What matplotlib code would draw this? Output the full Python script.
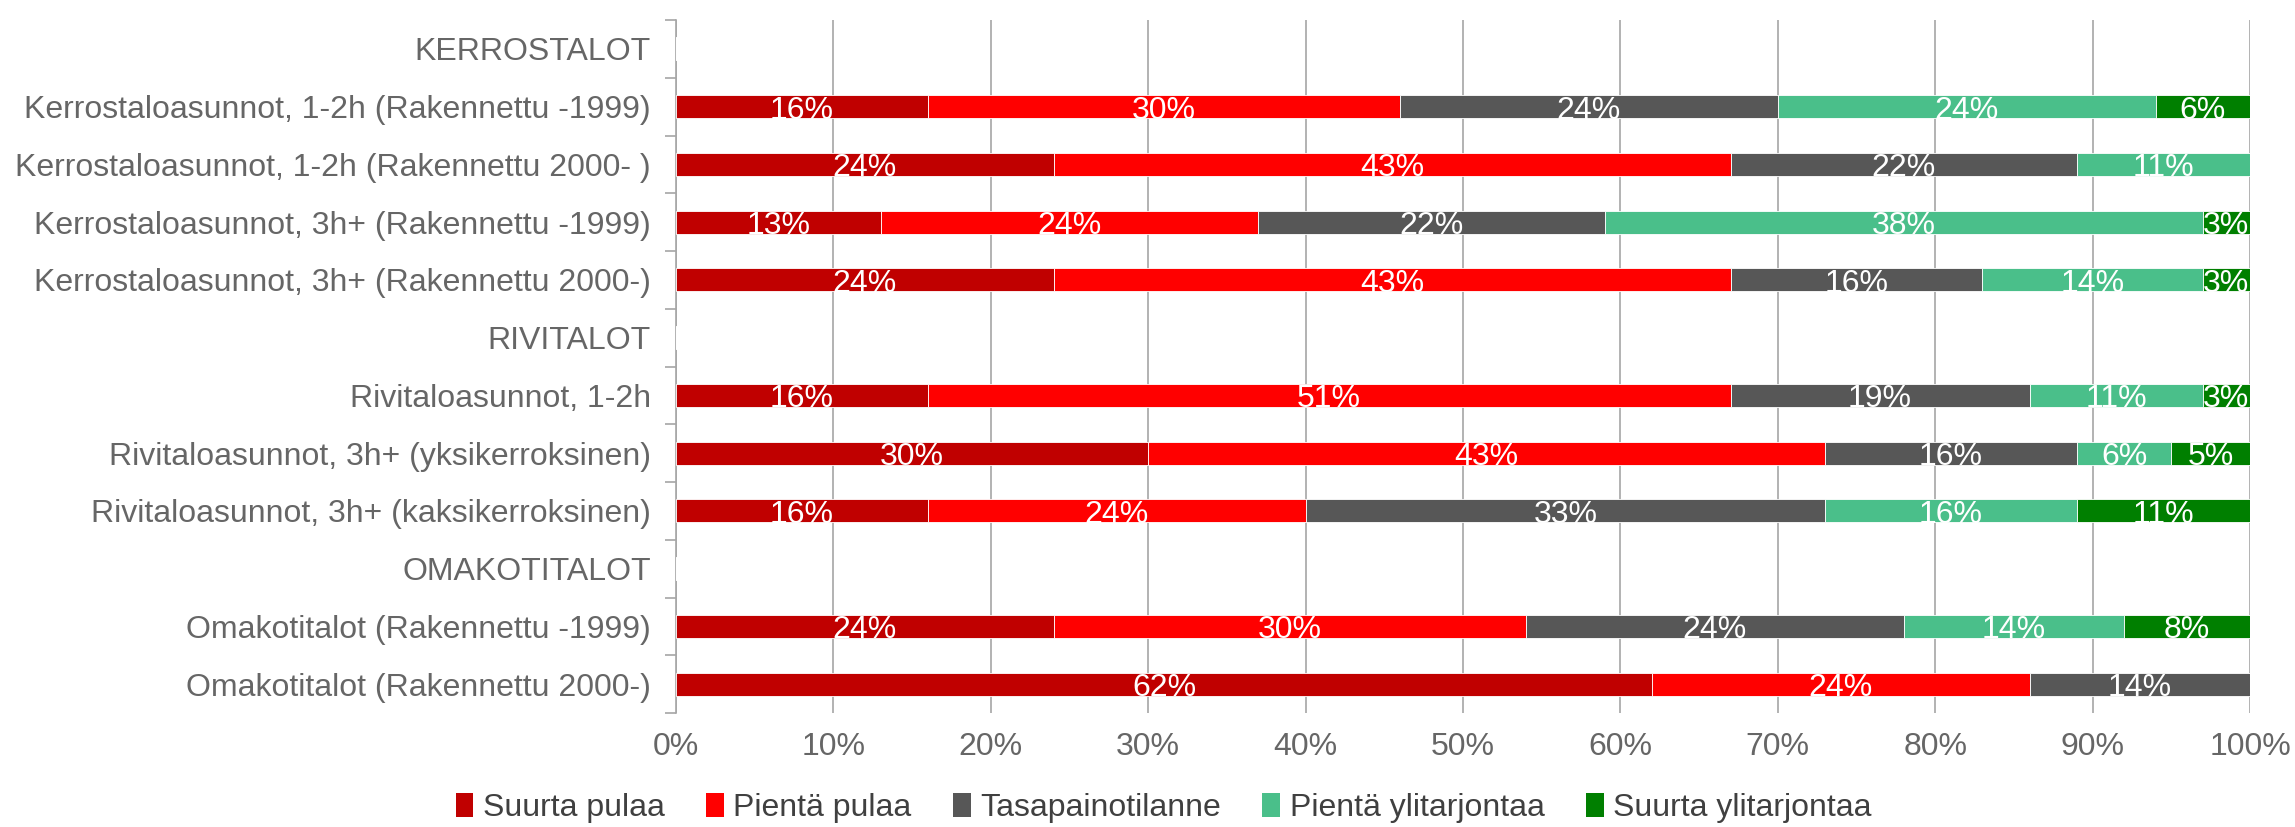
import matplotlib
matplotlib.use("Agg")
import matplotlib.pyplot as plt
import numpy as np
from matplotlib.patches import Patch

# ============================================================
# DATA
# ============================================================

categories = [
    "KERROSTALOT",
    "Kerrostaloasunnot, 1-2h (Rakennettu -1999)",
    "Kerrostaloasunnot, 1-2h (Rakennettu 2000- )",
    "Kerrostaloasunnot, 3h+ (Rakennettu -1999)",
    "Kerrostaloasunnot, 3h+ (Rakennettu 2000-)",
    "RIVITALOT",
    "Rivitaloasunnot, 1-2h",
    "Rivitaloasunnot, 3h+ (yksikerroksinen)",
    "Rivitaloasunnot, 3h+ (kaksikerroksinen)",
    "OMAKOTITALOT",
    "Omakotitalot (Rakennettu -1999)",
    "Omakotitalot (Rakennettu 2000-)",
]

series_names = ["Suurta pulaa", "Pientä pulaa", "Tasapainotilanne",
                "Pientä ylitarjontaa", "Suurta ylitarjontaa"]

suurta_pulaa = [0, 16, 24, 13, 24, 0, 16, 30, 16, 0, 24, 62]
pienta_pulaa = [0, 30, 43, 24, 43, 0, 51, 43, 24, 0, 30, 24]
tasapaino = [0, 24, 22, 22, 16, 0, 19, 16, 33, 0, 24, 14]
pienta_ylitarjontaa = [0, 24, 11, 38, 14, 0, 11, 6, 16, 0, 14, 0]
suurta_ylitarjontaa = [0, 6, 0, 3, 3, 0, 3, 5, 11, 0, 8, 0]

colors = ["#C00000", "#FF0000", "#575757", "#4ABF8A", "#007F00"]

# ============================================================
# PLOT
# ============================================================

plt.rcParams["font.family"] = ["Liberation Sans", "DejaVu Sans"]
text_color = "#666666"
fs = 23

fig = plt.figure(figsize=(22.95, 8.27), dpi=100)
ax = fig.add_axes([676 / 2295, 1 - 713 / 827, (2250 - 676) / 2295, (713 - 20) / 827])

values = [suurta_pulaa, pienta_pulaa, tasapaino, pienta_ylitarjontaa, suurta_ylitarjontaa]
y = np.arange(len(categories))
left = np.zeros(len(categories))

for vals, name, color in zip(values, series_names, colors):
    vals = np.array(vals, dtype=float) / 100
    ax.barh(y, vals, left=left, height=0.4, color=color, edgecolor="white",
            linewidth=0.6, label=name, zorder=3)
    for yi, (l, v) in enumerate(zip(left, vals)):
        if v > 0:
            ax.text(l + v / 2, yi + 0.07, f"{v * 100:.0f}%", ha="center", va="center",
                    color="white", fontsize=fs, zorder=4)
    left += vals

ax.set_xlim(0, 1)
ax.set_ylim(len(categories) - 0.5, -0.5)
ax.set_xticks(np.arange(0, 1.01, 0.1))
ax.set_xticklabels([f"{int(round(t * 100))}%" for t in np.arange(0, 1.01, 0.1)])
ax.set_yticks(y)
ax.set_yticklabels(categories)
ax.set_yticks(np.arange(-0.5, len(categories), 1), minor=True)

ax.tick_params(axis="y", which="major", length=0, pad=18, labelsize=fs, labelcolor=text_color)
ax.tick_params(axis="y", which="minor", length=8, width=1.2, color="#A6A6A6", direction="out")
ax.tick_params(axis="x", length=0, pad=14, labelsize=fs, labelcolor=text_color)

ax.grid(axis="x", color="#A6A6A6", linewidth=1.2, zorder=0)
for side in ["top", "right", "bottom"]:
    ax.spines[side].set_visible(False)
ax.spines["left"].set_color("#A6A6A6")
ax.spines["left"].set_linewidth(1.2)

handles = [Patch(facecolor=c, label=n) for c, n in zip(colors, series_names)]
fig.legend(handles=handles, loc="center", bbox_to_anchor=(0.507, 1 - 808 / 827), ncol=5,
           frameon=False, fontsize=fs, handlelength=0.55, handleheight=0.75,
           handletextpad=0.3, columnspacing=1.3, labelcolor="#404040")

fig.savefig("out.png", dpi=100)
